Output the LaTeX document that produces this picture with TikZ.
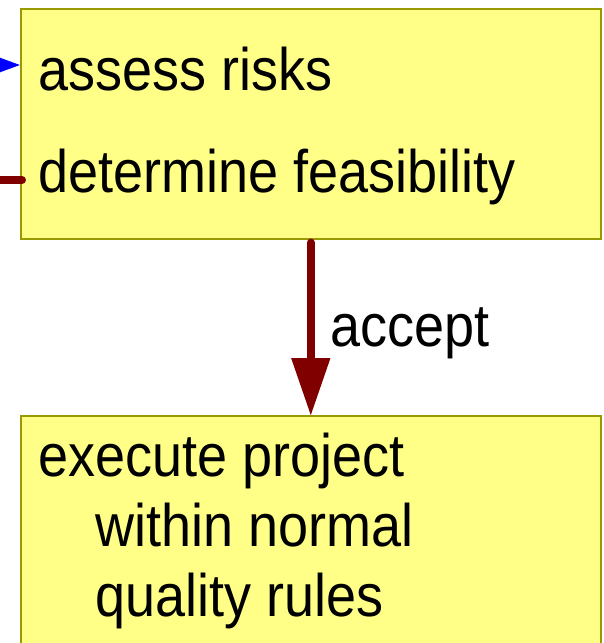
\documentclass[tikz,border=0pt]{standalone}
\usepackage{fontspec}
\setmainfont{Liberation Sans}[FakeStretch=0.9]
\usetikzlibrary{arrows.meta}
\definecolor{boxfill}{HTML}{FFFF88}
\definecolor{boxline}{HTML}{999900}
\definecolor{darkred}{HTML}{800000}
\begin{document}
\begin{tikzpicture}[x=1pt,y=-1pt,
  box/.style={draw=boxline,fill=boxfill,line width=1.6pt,inner sep=0pt},
  lbl/.style={anchor=base west,inner sep=0pt,font=\fontsize{60}{70}\selectfont},
  bigarrow/.style={draw=darkred,line width=8pt,line cap=round,-{Triangle[length=58pt,width=37pt,sharp]}},
  bluearrow/.style={draw=blue,line width=2pt,-{Triangle[length=20pt,width=14pt,sharp]}},
  stub/.style={draw=darkred,line width=8pt,line cap=round}]
\useasboundingbox (0,0) rectangle (603,643);
\begin{scope}
\clip (0,0) rectangle (603,643);
\node[box,minimum width=580pt,minimum height=230pt,anchor=north west] (risk) at (20,8) {};
\node[box,minimum width=580pt,minimum height=300pt,anchor=north west] (exec) at (20,415) {};
\node[lbl] (t1) at (38,90) {assess risks};
\node[lbl] (t2) at (38,192) {determine feasibility};
\node[lbl] (e1) at (38,476) {execute project};
\node[lbl] (e2) at (95,546) {within normal};
\node[lbl] (e3) at (95,616) {quality rules};
\coordinate (bluein) at (-40,65);
\coordinate (stubin) at (-40,180);
\draw[bluearrow] (bluein) -- (risk.west |- bluein);
\draw[stub] (stubin) -- ([xshift=2pt]risk.west |- stubin);
\draw[bigarrow] ([yshift=-3pt]risk.south) -- ([yshift=-1pt]exec.north)
  node[midway,right=16pt,inner sep=0pt,font=\fontsize{60}{70}\selectfont,yshift=-4pt] (acc) {accept};
\end{scope}
\end{tikzpicture}
\end{document}
